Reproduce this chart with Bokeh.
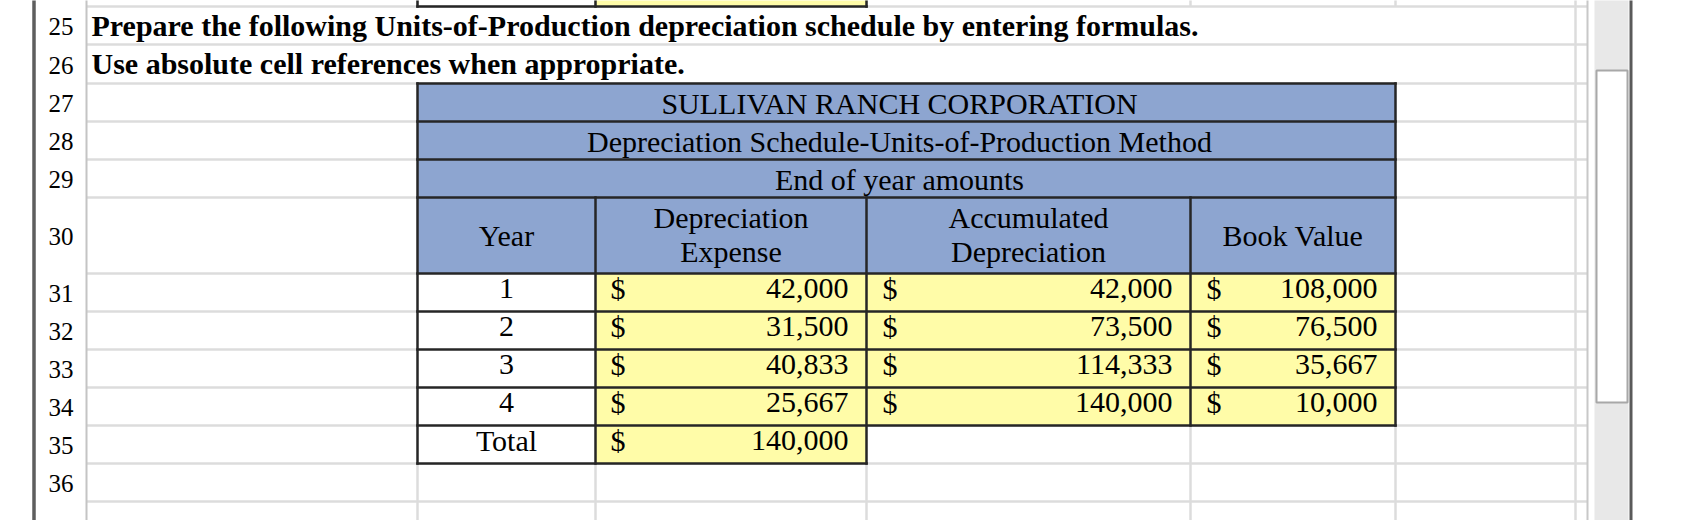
from bokeh.plotting import figure
from bokeh.models import Range1d, ColumnDataSource
from bokeh.core.properties import value
from bokeh.embed import file_html
from bokeh.resources import INLINE

# ---------------- data ----------------
row_numbers = list(range(25, 37))
instructions = [
    "Prepare the following Units-of-Production depreciation schedule by entering formulas.",
    "Use absolute cell references when appropriate.",
]
titles = [
    "SULLIVAN RANCH CORPORATION",
    "Depreciation Schedule-Units-of-Production Method",
    "End of year amounts",
]
header_lines = [["Year"], ["Depreciation", "Expense"], ["Accumulated", "Depreciation"], ["Book Value"]]
years = ["1", "2", "3", "4"]
total_label = "Total"
depreciation_expense = [42000, 31500, 40833, 25667]
accumulated_depreciation = [42000, 73500, 114333, 140000]
book_value = [108000, 76500, 35667, 10000]
total_expense = 140000

# ---------------- layout / style ----------------
FONT = value("Liberation Serif")
BLUE = "#8DA5D0"
YELLOW = "#FFFCA8"
GRID = "#DCDCDC"
DARK = "#262626"
COL = [417, 595, 866, 1190, 1395]
ROW_TOP = {24: -40, 25: 6, 26: 44, 27: 83, 28: 121, 29: 159, 30: 197, 31: 273,
           32: 311, 33: 349, 34: 387, 35: 425, 36: 463, 37: 501, 38: 539}
W, H = 1686, 520
FS = 30      # main font size (px)
FS_ROW = 25  # row-number font size (px)

p = figure(width=W, height=H, x_range=Range1d(0, W), y_range=Range1d(H, 0),
           x_axis_type=None, y_axis_type=None, toolbar_location=None,
           output_backend="svg", min_border=0, background_fill_color="white")
p.outline_line_color = None
p.grid.visible = False

def seg(x0, y0, x1, y1, color, width, cap="butt"):
    p.segment(x0=x0, y0=y0, x1=x1, y1=y1, line_color=color, line_width=width, line_cap=cap)

# light gray grid: horizontals
hy = [ROW_TOP[r] for r in range(25, 38)]
seg([86] * len(hy), hy, [1587] * len(hy), hy, GRID, 2.5)
# vertical grid pieces (visible in row 24 and below the table)
vx0, vy0, vx1, vy1 = [], [], [], []
for x in COL:
    vx0 += [x, x]; vy0 += [-10, ROW_TOP[36] if x in (417, 595, 866) else ROW_TOP[35]]
    vx1 += [x, x]; vy1 += [ROW_TOP[25], 530]
vx0 += [1575]; vy0 += [-10]; vx1 += [1575]; vy1 += [530]
seg(vx0, vy0, vx1, vy1, GRID, 2.5)
seg([1587], [-10], [1587], [530], "#C8C8C8", 2)
seg([86], [-10], [86], [530], "#C4C4C4", 2)
# left dark edge
seg([33.5], [-10], [33.5], [530], "#5E5E5E", 3.5)

# scrollbar
p.quad(left=[1594], right=[1628], top=[-10], bottom=[530], fill_color="#E8E8E8", line_color=None)
p.quad(left=[1596], right=[1627], top=[70], bottom=[402], fill_color="white",
       line_color="#A8A8A8", line_width=2)
seg([1630.5], [-10], [1630.5], [530], "#5A5A5A", 3)

# ---------------- table fills ----------------
p.quad(left=[COL[0]], right=[COL[4]], top=[ROW_TOP[27]], bottom=[ROW_TOP[31]],
       fill_color=BLUE, line_color=None)
n = len(years)
p.quad(left=[COL[0]] * (n + 1), right=[COL[1]] * (n + 1),
       top=[ROW_TOP[31 + i] for i in range(n + 1)], bottom=[ROW_TOP[32 + i] for i in range(n + 1)],
       fill_color="white", line_color=None)
p.quad(left=[COL[1]] * (n + 1), right=[COL[2]] * (n + 1),
       top=[ROW_TOP[31 + i] for i in range(n + 1)], bottom=[ROW_TOP[32 + i] for i in range(n + 1)],
       fill_color=YELLOW, line_color=None)
p.quad(left=[COL[2]] * n + [COL[3]] * n, right=[COL[3]] * n + [COL[4]] * n,
       top=[ROW_TOP[31 + i] for i in range(n)] * 2, bottom=[ROW_TOP[32 + i] for i in range(n)] * 2,
       fill_color=YELLOW, line_color=None)
# partial row 24 above
p.quad(left=[COL[1]], right=[COL[2]], top=[-10], bottom=[ROW_TOP[25]], fill_color=YELLOW, line_color=None)

# ---------------- table borders ----------------
hx0, hy0, hx1 = [], [], []
for r in range(27, 32 + n):
    y = ROW_TOP[r]
    hx0.append(COL[0]); hy0.append(y); hx1.append(COL[4])
hx0 += [COL[0], COL[0]]; hy0 += [ROW_TOP[36], ROW_TOP[25]]; hx1 += [COL[2], COL[2]]
seg(hx0, hy0, hx1, hy0, DARK, 2.5, "square")
dx0 = [COL[0], COL[4], COL[1], COL[2], COL[3], COL[0], COL[1], COL[2]]
dy0 = [ROW_TOP[27], ROW_TOP[27], ROW_TOP[30], ROW_TOP[30], ROW_TOP[30], -10, -10, -10]
dy1 = [ROW_TOP[36], ROW_TOP[35], ROW_TOP[36], ROW_TOP[36], ROW_TOP[35], ROW_TOP[25], ROW_TOP[25], ROW_TOP[25]]
seg(dx0, dy0, dx0, dy1, DARK, 2.5, "square")

# ---------------- texts ----------------
def txt(xs, ys, texts, size, align="left", style="normal"):
    shift = 0.277 * size + 2  # compensate renderer baseline offset
    src = ColumnDataSource(dict(x=xs, y=[y - shift for y in ys], t=texts))
    p.text(x="x", y="y", text="t", source=src, text_font=FONT, text_font_size=f"{size}px",
           text_align=align, text_baseline="alphabetic", text_color="black",
           text_font_style=style)

# row numbers
rn_y = []
for r in row_numbers:
    top, bot = ROW_TOP[r], ROW_TOP[r + 1]
    rn_y.append((top + bot) / 2 + 10)
txt([48] * len(row_numbers), rn_y, [str(r) for r in row_numbers], FS_ROW)

# instructions (bold)
txt([91, 91], [ROW_TOP[25] + 29, ROW_TOP[26] + 29], instructions, FS, style="bold")

# titles
txt([899] * 3, [ROW_TOP[27] + 30, ROW_TOP[28] + 30, ROW_TOP[29] + 30], titles, FS, "center")

# headers
hx, hyy, ht = [], [], []
mid = (ROW_TOP[30] + ROW_TOP[31]) / 2
for i, lines in enumerate(header_lines):
    cx = (COL[i] + COL[i + 1]) / 2
    if len(lines) == 1:
        hx.append(cx); hyy.append(mid + 10); ht.append(lines[0])
    else:
        hx += [cx, cx]; hyy += [mid - 8, mid + 26]; ht += lines
txt(hx, hyy, ht, FS, "center")

# year column
yc = (COL[0] + COL[1]) / 2
txt([yc] * (n + 1), [ROW_TOP[31 + i] + 25 for i in range(n + 1)], years + [total_label], FS, "center")

# dollar signs
dl_x, dl_y = [], []
for c, count in ((COL[1] + 15, n + 1), (COL[2] + 16, n), (COL[3] + 16, n)):
    for i in range(count):
        dl_x.append(c); dl_y.append(ROW_TOP[31 + i] + 25)
txt(dl_x, dl_y, ["$"] * len(dl_x), FS)

# amounts
fmt = lambda v: f"{v:,}"
ax, ay, at = [], [], []
for right, vals in ((COL[2] - 18, depreciation_expense + [total_expense]),
                    (COL[3] - 18, accumulated_depreciation),
                    (COL[4] - 18, book_value)):
    for i, v in enumerate(vals):
        ax.append(right); ay.append(ROW_TOP[31 + i] + 25); at.append(fmt(v))
txt(ax, ay, at, FS, "right")

open("out.html", "w").write(file_html(p, INLINE))
